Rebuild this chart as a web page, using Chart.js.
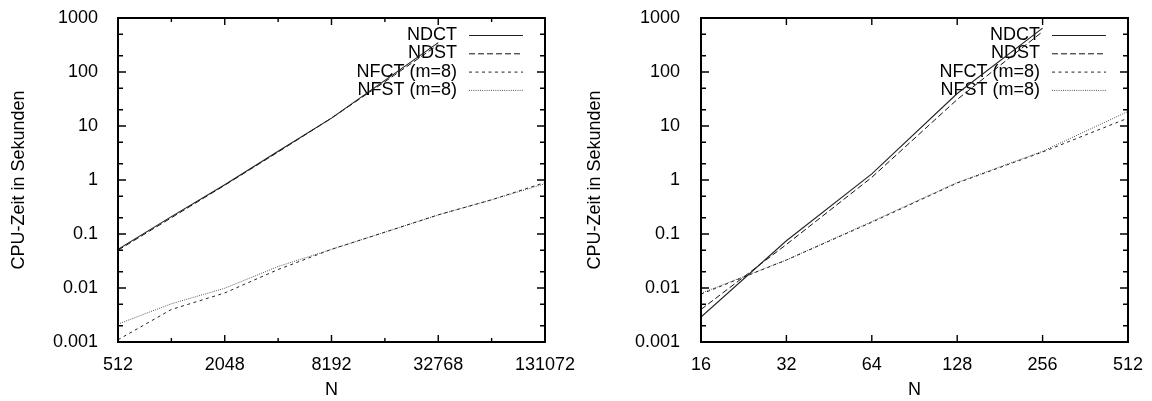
<!DOCTYPE html>
<html>
<head>
<meta charset="utf-8">
<script src="https://cdn.jsdelivr.net/npm/chart.js@4.4.1/dist/chart.umd.min.js"></script>
<style>
  html, body { margin: 0; padding: 0; background: #fff; }
  .panel { position: absolute; top: 0; width: 576px; height: 401px; }
</style>
</head>
<body>
<div class="panel" style="left:0"><canvas id="left" width="576" height="401"></canvas></div>
<div class="panel" style="left:576px"><canvas id="right" width="576" height="401"></canvas></div>
<script>
// series names
const names = ["NDCT", "NDST", "NFCT (m=8)", "NFST (m=8)"];

// left panel, N = 512 .. 131072
const leftDirectN = [512, 1024, 2048, 4096, 8192, 16384, 32768];
const leftNdct = [0.052, 0.21, 0.82, 3.4, 14, 70, 350];
const leftNdst = [0.05, 0.2, 0.8, 3.3, 14, 66, 320];
const leftFastN = [512, 1024, 2048, 4096, 8192, 16384, 32768, 65536, 131072];
const leftNfct = [0.0011, 0.004, 0.0081, 0.022, 0.052, 0.108, 0.226, 0.43, 0.9];
const leftNfst = [0.00215, 0.0051, 0.0099, 0.025, 0.052, 0.108, 0.226, 0.43, 0.85];
const leftXTicks = [512, 2048, 8192, 32768, 131072];
const leftXMinor = [1024, 4096, 16384, 65536];

// right panel, N = 16 .. 512
const rightDirectN = [16, 32, 64, 128, 256];
const rightNdct = [0.0029, 0.075, 1.3, 40, 650];
const rightNdst = [0.004, 0.064, 1.12, 31, 560];
const rightFastN = [16, 32, 64, 128, 256, 512];
const rightNfct = [0.0077, 0.033, 0.165, 0.88, 3.3, 14];
const rightNfst = [0.008, 0.033, 0.17, 0.9, 3.4, 18.6];
const rightXTicks = [16, 32, 64, 128, 256, 512];
const rightXMinor = [];

// y axis (both panels)
const yTicks = [0.001, 0.01, 0.1, 1, 10, 100, 1000];
const yMinor = [0.002, 0.005, 0.02, 0.05, 0.2, 0.5, 2, 5, 20, 50, 200, 500];

const FONT = "'Liberation Sans', Arial, Helvetica, sans-serif";
const lineStyles = [
  { color: "#222", width: 1.1, dash: [] },
  { color: "#111", width: 1, dash: [6, 3] },
  { color: "#222", width: 1, dash: [3, 3.5] },
  { color: "#555", width: 1, dash: [1, 1.2] },
];

// gnuplot-like box, inward ticks and legend
const gnuFrame = {
  id: "gnuFrame",
  beforeDatasetsDraw(chart) {
    const { ctx, chartArea: a } = chart;
    ctx.save();
    ctx.font = "18px " + FONT;
    ctx.fillStyle = "#000";
    ctx.textAlign = "right";
    ctx.textBaseline = "middle";
    names.forEach((n, i) => {
      const yy = a.top + 17 + i * 18.3;
      ctx.fillText(n, a.right - 88, yy);
      const st = lineStyles[i];
      ctx.strokeStyle = st.color;
      ctx.lineWidth = st.width;
      ctx.setLineDash(st.dash);
      ctx.beginPath();
      ctx.moveTo(a.right - 76, yy + 0.5);
      ctx.lineTo(a.right - 22, yy + 0.5);
      ctx.stroke();
    });
    ctx.restore();
  },
  afterDatasetsDraw(chart, args, opts) {
    const { ctx, chartArea: a, scales: { x, y } } = chart;
    ctx.save();
    ctx.strokeStyle = "#000";
    ctx.lineWidth = 1.4;
    ctx.setLineDash([]);
    ctx.beginPath();
    const xt = (v, len) => {
      const p = x.getPixelForValue(v);
      ctx.moveTo(p, a.bottom); ctx.lineTo(p, a.bottom - len);
      ctx.moveTo(p, a.top); ctx.lineTo(p, a.top + len);
    };
    const yt = (v, len) => {
      const p = y.getPixelForValue(v);
      ctx.moveTo(a.left, p); ctx.lineTo(a.left + len, p);
      ctx.moveTo(a.right, p); ctx.lineTo(a.right - len, p);
    };
    opts.xMajor.forEach(v => xt(v, 7));
    opts.xMinor.forEach(v => xt(v, 4));
    yTicks.forEach(v => yt(v, 8));
    yMinor.forEach(v => yt(v, 5));
    ctx.stroke();
    ctx.lineWidth = 2;
    ctx.strokeRect(a.left, a.top, a.right - a.left, a.bottom - a.top);
    ctx.restore();
  }
};

function makePanel(id, xMin, xMax, xMajor, xMinor, series, yAxisWidth, padRight, yLabelPad) {
  new Chart(document.getElementById(id), {
    type: "line",
    data: {
      datasets: series.map((s, i) => ({
        label: names[i],
        data: s.n.map((n, k) => ({ x: n, y: s.t[k] })),
        borderColor: lineStyles[i].color,
        borderWidth: lineStyles[i].width,
        borderDash: lineStyles[i].dash,
        pointRadius: 0,
        tension: 0,
        fill: false,
      })),
    },
    options: {
      responsive: false,
      animation: false,
      devicePixelRatio: 1,
      layout: { padding: { top: 18, right: padRight, bottom: 0, left: 0 } },
      plugins: {
        legend: { display: false },
        tooltip: { enabled: false },
        gnuFrame: { xMajor: xMajor, xMinor: xMinor },
      },
      scales: {
        x: {
          type: "logarithmic",
          min: xMin,
          max: xMax,
          afterBuildTicks: sc => { sc.ticks = xMajor.map(v => ({ value: v })); },
          afterFit: sc => { sc.height = 59; sc.paddingLeft = 0; sc.paddingRight = 0; },
          grid: { display: false },
          border: { display: false },
          ticks: {
            color: "#000", font: { size: 18, family: FONT }, padding: 4,
            maxRotation: 0, autoSkip: false, callback: v => String(v),
          },
          title: {
            display: true, text: "N", color: "#000",
            font: { size: 18, family: FONT }, padding: { top: 0, bottom: 0 },
          },
        },
        y: {
          type: "logarithmic",
          min: 0.001,
          max: 1000,
          afterBuildTicks: sc => { sc.ticks = yTicks.map(v => ({ value: v })); },
          afterFit: sc => { sc.width = yAxisWidth; sc.paddingTop = 0; sc.paddingBottom = 0; },
          grid: { display: false },
          border: { display: false },
          ticks: {
            color: "#000", font: { size: 18, family: FONT }, padding: yLabelPad,
            autoSkip: false, callback: v => String(v),
          },
          title: {
            display: true, text: "CPU-Zeit in Sekunden", color: "#000",
            font: { size: 18, family: FONT }, padding: { top: 8, bottom: 0 },
          },
        },
      },
    },
    plugins: [gnuFrame],
  });
}

makePanel("left", 512, 131072, leftXTicks, leftXMinor, [
  { n: leftDirectN, t: leftNdct },
  { n: leftDirectN, t: leftNdst },
  { n: leftFastN, t: leftNfct },
  { n: leftFastN, t: leftNfst },
], 118, 31, 12);

makePanel("right", 16, 512, rightXTicks, rightXMinor, [
  { n: rightDirectN, t: rightNdct },
  { n: rightDirectN, t: rightNdst },
  { n: rightFastN, t: rightNfct },
  { n: rightFastN, t: rightNfst },
], 125, 24, 13);
</script>
</body>
</html>
